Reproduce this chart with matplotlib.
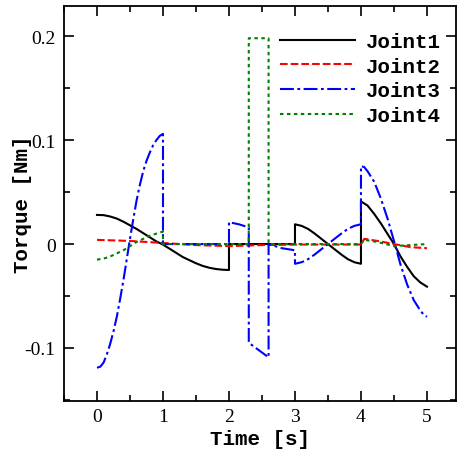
import matplotlib
matplotlib.use("Agg")
import matplotlib.pyplot as plt
from matplotlib.ticker import MultipleLocator, FuncFormatter

plt.rcParams['axes.unicode_minus'] = False
plt.rcParams['lines.scale_dashes'] = False

# ---- data ----
t_j1 = [0.0, 0.1, 0.2, 0.3, 0.4, 0.5, 0.6, 0.7, 0.8, 0.9, 1.0, 1.1, 1.2, 1.3, 1.4, 1.5, 1.6, 1.7, 1.8, 1.9, 2.0,
        2.0, 3.0,
        3.0, 3.1, 3.2, 3.3, 3.4, 3.5, 3.6, 3.7, 3.8, 3.9, 4.0,
        4.0, 4.1, 4.2, 4.3, 4.4, 4.5, 4.6, 4.7, 4.8, 4.9, 5.0]
v_j1 = [0.028, 0.0278, 0.0265, 0.0245, 0.0215, 0.018, 0.0145, 0.0105, 0.0065, 0.0025, -0.0005, -0.0045, -0.0085,
        -0.0125, -0.0155, -0.0185, -0.021, -0.0228, -0.024, -0.0247, -0.025,
        0.0, 0.0,
        0.019, 0.0175, 0.0145, 0.010, 0.005, 0.0, -0.005, -0.010, -0.0145, -0.0175, -0.019,
        0.041, 0.037, 0.029, 0.020, 0.010, 0.0, -0.012, -0.022, -0.031, -0.037, -0.041]

t_j2 = [0.0, 0.5, 1.0, 1.5, 2.0, 2.5, 3.0, 3.5, 4.0, 4.05, 4.25, 4.5, 4.75, 5.0]
v_j2 = [0.004, 0.003, 0.001, -0.001, -0.002, -0.001, -0.0005, -0.0005, -0.0005, 0.005, 0.003, 0.0, -0.003, -0.004]

t_j3 = [0.0, 0.05, 0.1, 0.15, 0.2, 0.25, 0.3, 0.35, 0.4, 0.45, 0.5, 0.55, 0.6, 0.65, 0.7, 0.75, 0.8, 0.85, 0.9,
        0.95, 1.0,
        1.0, 2.0,
        2.0, 2.15, 2.3,
        2.3, 2.6,
        2.6, 2.7, 2.8, 2.9, 3.0,
        3.0, 3.1, 3.2, 3.3, 3.4, 3.5, 3.6, 3.7, 3.8, 3.9, 4.0,
        4.0, 4.05, 4.1, 4.2, 4.3, 4.4, 4.5, 4.6, 4.7, 4.8, 4.9, 4.95, 5.0]
v_j3 = [-0.119, -0.118, -0.114, -0.106, -0.096, -0.084, -0.070, -0.053, -0.035, -0.015, 0.005, 0.024, 0.042,
        0.057, 0.070, 0.080, 0.088, 0.095, 0.100, 0.104, 0.106,
        0.0, 0.0,
        0.021, 0.019, 0.016,
        -0.095, -0.109,
        0.0, -0.002, -0.004, -0.005, -0.006,
        -0.019, -0.0175, -0.0145, -0.010, -0.005, 0.0, 0.005, 0.010, 0.0145, 0.0175, 0.019,
        0.075, 0.074, 0.070, 0.060, 0.044, 0.025, 0.003, -0.020, -0.039, -0.054, -0.064, -0.068, -0.070]

t_j4 = [0.0, 0.1, 0.2, 0.3, 0.4, 0.5, 0.6, 0.7, 0.8, 0.9, 1.0,
        1.0, 2.3,
        2.3, 2.6,
        2.6, 4.0, 4.05, 4.25, 4.5, 4.75, 5.0]
v_j4 = [-0.015, -0.014, -0.012, -0.009, -0.006, -0.002, 0.002, 0.005, 0.008, 0.010, 0.012,
        0.0, 0.0,
        0.198, 0.198,
        0.0, 0.0, 0.004, 0.002, -0.002, -0.001, 0.0]

labels = ["Joint1", "Joint2", "Joint3", "Joint4"]
x_ticks = [0, 1, 2, 3, 4, 5]
y_ticks = [-0.1, 0, 0.1, 0.2]

# ---- figure ----
W, H = 457, 452
fig = plt.figure(figsize=(W / 100, H / 100), dpi=100)
ax = fig.add_axes([64 / W, 50 / H, (456 - 64) / W, (402 - 7) / H])

lw = 1.5
ax.plot(t_j1, v_j1, color='black', lw=lw, linestyle='-', label=labels[0])
ax.plot(t_j2, v_j2, color='#ff0000', lw=lw, linestyle=(0, (5.5, 2.2)), label=labels[1])
ax.plot(t_j3, v_j3, color='#0000ff', lw=lw, linestyle=(0, (10, 2.5, 2, 2.5)), label=labels[2])
ax.plot(t_j4, v_j4, color='#008000', lw=lw, linestyle=(0, (2.5, 2.5)), label=labels[3])

ax.set_xlim(-0.5, 5.44)
ax.set_ylim(-0.151, 0.229)

ax.set_xticks(x_ticks)
ax.set_yticks(y_ticks)
ax.xaxis.set_minor_locator(MultipleLocator(0.5))
ax.yaxis.set_minor_locator(MultipleLocator(0.05))
fmt = FuncFormatter(lambda v, p: "%g" % v)
ax.xaxis.set_major_formatter(fmt)
ax.yaxis.set_major_formatter(fmt)

ax.tick_params(which='both', direction='in', top=True, right=True, width=1.2)
ax.tick_params(which='major', length=7)
ax.tick_params(which='minor', length=4)
ax.tick_params(axis='x', which='major', pad=5)
ax.tick_params(axis='y', which='major', pad=6)
for lab in ax.get_xticklabels() + ax.get_yticklabels():
    lab.set_fontfamily('Liberation Serif')
    lab.set_fontsize(14)
for s in ax.spines.values():
    s.set_linewidth(1.3)

ax.set_xlabel("Time [s]", fontfamily='Liberation Mono', fontweight='bold', fontsize=15, labelpad=3)
ax.set_ylabel("Torque [Nm]", fontfamily='Liberation Mono', fontweight='bold', fontsize=15, labelpad=-5)

leg = ax.legend(loc='upper left', bbox_to_anchor=(280 / W, 1 - 33 / H), bbox_transform=fig.transFigure,
                frameon=False, prop={'family': 'Liberation Mono', 'weight': 'bold', 'size': 15},
                handlelength=3.6, handletextpad=0.55, labelspacing=0.27, borderaxespad=0, borderpad=0)

fig.savefig("out.png", dpi=100)
